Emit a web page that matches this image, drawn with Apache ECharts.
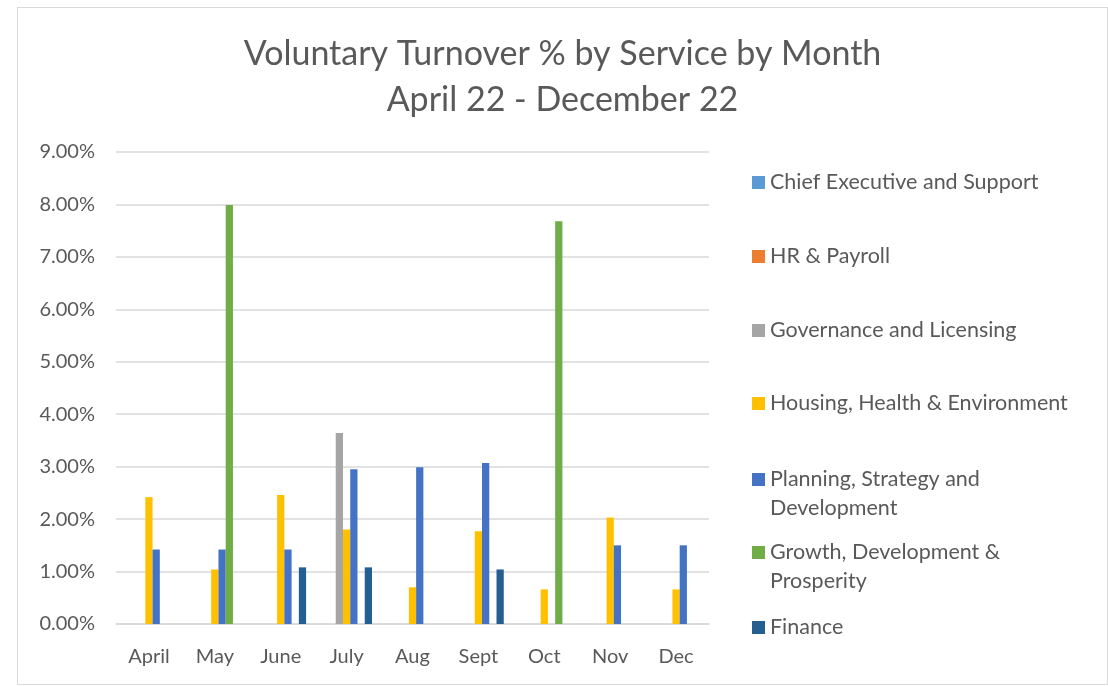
<!DOCTYPE html>
<html>
<head>
<meta charset="utf-8">
<title>Voluntary Turnover % by Service by Month</title>
<script src="https://cdn.jsdelivr.net/npm/echarts@6/dist/echarts.min.js"></script>
<style>
  html, body { margin: 0; padding: 0; background: #fff; }
  .chart-frame {
    position: absolute;
    left: 17px;
    top: 7px;
    width: 1089px;
    height: 676px;
    border: 1px solid #d9d9d9;
  }
  #chart { width: 100%; height: 100%; }
</style>
</head>
<body>
<div class="chart-frame"><div id="chart"></div></div>
<script>
// categories
const months = ['April', 'May', 'June', 'July', 'Aug', 'Sept', 'Oct', 'Nov', 'Dec']

// series names (legend order)
const serviceNames = [
  'Chief Executive and Support',
  'HR & Payroll',
  'Governance and Licensing',
  'Housing, Health & Environment',
  'Planning, Strategy and Development',
  'Growth, Development & Prosperity',
  'Finance'
]

// values in %
const chiefExec = [0, 0, 0, 0, 0, 0, 0, 0, 0]
const hrPayroll = [0, 0, 0, 0, 0, 0, 0, 0, 0]
const governance = [0, 0, 0, 3.64, 0, 0, 0, 0, 0]
const housing = [2.42, 1.04, 2.46, 1.80, 0.70, 1.77, 0.66, 2.03, 0.66]
const planning = [1.42, 1.42, 1.42, 2.95, 2.99, 3.07, 0, 1.50, 1.50]
const growth = [0, 7.99, 0, 0, 0, 0, 7.68, 0, 0]
const finance = [0, 0, 1.08, 1.08, 0, 1.04, 0, 0, 0]

// y axis ticks
const yMin = 0
const yMax = 9
const yStep = 1

const seriesValues = [chiefExec, hrPayroll, governance, housing, planning, growth, finance]
const colors = ['#5b9bd5', '#ed7d31', '#a5a5a5', '#ffc000', '#4472c4', '#70ad47', '#255e91']

// legend labels: wrapped ones get a blank first line so the swatch sits by line one
const legendLabels = {
  'Planning, Strategy and Development': ' \nPlanning, Strategy and\nDevelopment',
  'Growth, Development & Prosperity': ' \nGrowth, Development &\nProsperity'
}
const legendTops = [155, 229, 303, 376, 423, 496, 600]

const textColor = '#595959'
const fontFamily = 'Lato, "Open Sans", sans-serif'

const chart = echarts.init(document.getElementById('chart'))

const option = {
  animation: false,
  color: colors,
  textStyle: { fontFamily: fontFamily },
  title: {
    text: 'Voluntary Turnover % by Service by Month\nApril 22 - December 22',
    left: 'center',
    top: 18,
    textStyle: {
      color: textColor,
      fontSize: 34,
      fontWeight: 'normal',
      lineHeight: 46,
      fontFamily: fontFamily
    }
  },
  legend: serviceNames.map((name, i) => ({
    data: [name],
    orient: 'vertical',
    left: 729,
    top: legendTops[i],
    icon: 'rect',
    itemWidth: 13,
    itemHeight: 13,
    selectedMode: false,
    formatter: (n) => legendLabels[n] || n,
    textStyle: {
      color: textColor,
      fontSize: 21.5,
      lineHeight: 29,
      fontFamily: fontFamily
    }
  })),
  grid: {
    left: 98,
    right: 398,
    top: 144,
    bottom: 60
  },
  xAxis: {
    type: 'category',
    data: months,
    axisLine: { lineStyle: { color: '#d9d9d9', width: 1.5 } },
    axisTick: { show: false },
    axisLabel: {
      color: textColor,
      fontSize: 20,
      margin: 23,
      fontFamily: fontFamily
    }
  },
  yAxis: {
    type: 'value',
    min: yMin,
    max: yMax,
    interval: yStep,
    axisLine: { show: false },
    axisTick: { show: false },
    splitLine: { lineStyle: { color: '#d9d9d9', width: 1.5 } },
    axisLabel: {
      color: textColor,
      fontSize: 20,
      margin: 21,
      fontFamily: fontFamily,
      formatter: (v) => v.toFixed(2) + '%'
    }
  },
  series: serviceNames.map((name, i) => ({
    name: name,
    type: 'bar',
    data: seriesValues[i],
    barGap: 0,
    barCategoryGap: '23%',
    itemStyle: { color: colors[i] }
  }))
}

chart.setOption(option)
window.addEventListener('resize', () => chart.resize())
</script>
</body>
</html>
